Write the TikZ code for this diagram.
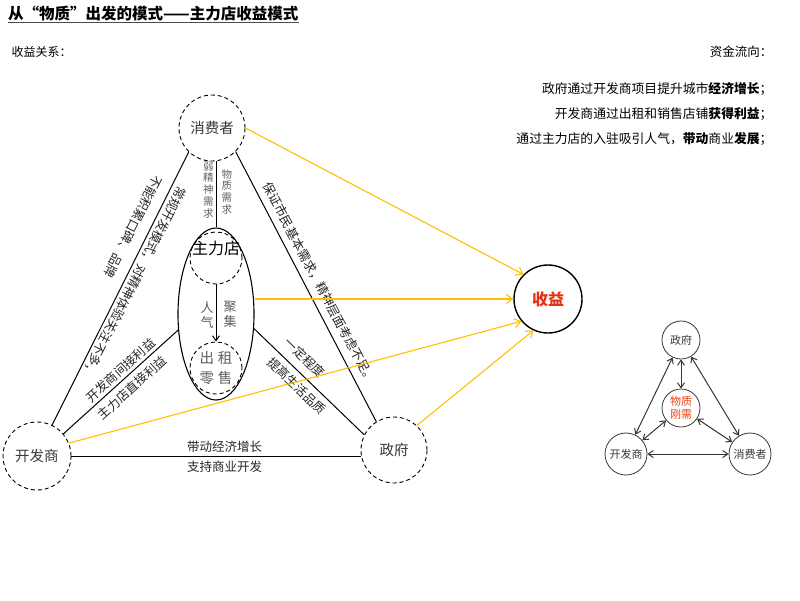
\documentclass[tikz,border=0pt]{standalone}
\usepackage{fontspec}
\setmainfont{Noto Sans CJK SC}
\usepackage{tikz}
\usetikzlibrary{arrows.meta}
\usetikzlibrary{shapes.geometric}
\definecolor{amber}{RGB}{255, 192, 0}
\definecolor{vermilion}{RGB}{230, 50, 20}
\definecolor{ashgray}{RGB}{95, 95, 95}
\definecolor{charcoal}{RGB}{55, 55, 55}

\begin{document}
\begin{tikzpicture}[x=1pt, y=-1pt,
        dcirc/.style={circle, draw, dash pattern=on 4pt off 3pt, line width=0.9pt, inner sep=0pt,
                      minimum size=66pt, text=charcoal, font=\fontsize{14.5}{16}\selectfont},
        scirc/.style={circle, draw=charcoal, line width=0.8pt, inner sep=0pt, minimum size=38pt,
                      text=charcoal, align=center, font=\fontsize{11}{12.5}\selectfont},
        link/.style={line width=1pt},
        cashflow/.style={amber, line width=1.1pt, -{Straight Barb[length=6pt, width=9pt]}},
        twoway/.style={charcoal, line width=1pt,
                       {Straight Barb[length=5pt, width=7pt]}-{Straight Barb[length=5pt, width=7pt]}},
        lbl/.style={text=black!85, font=\fontsize{12.5}{14}\selectfont},
        vlbl/.style={text=ashgray, align=center, inner sep=2pt}]
            \useasboundingbox (0, 0) rectangle (800, 600);
            % Headings
            \node[anchor=base west, inner sep=0pt, font=\fontsize{15.5}{17}\selectfont\bfseries] (bt) at (8, 19.5) {从“物质”出发的模式——主力店收益模式};
            \draw[gray!60!black, line width=1pt] ([yshift=-2.5pt]bt.base west) -- ([yshift=-2.5pt]bt.base east);
            \node[anchor=west, font=\fontsize{12}{14}\selectfont] (sygx) at (8, 52) {收益关系：};
            \node[anchor=east, font=\fontsize{12.5}{14}\selectfont] (zjlx) at (776, 52) {资金流向：};
            \node[anchor=east, font=\fontsize{12.8}{14}\selectfont] (hint1) at (776, 89) {政府通过开发商项目提升城市\textbf{经济增长}；};
            \node[anchor=east, font=\fontsize{12.8}{14}\selectfont] (hint2) at (776, 114) {开发商通过出租和销售店铺\textbf{获得利益}；};
            \node[anchor=east, font=\fontsize{12.8}{14}\selectfont] (hint3) at (776, 139) {通过主力店的入驻吸引人气，\textbf{带动}商业\textbf{发展}；};
            % Main triangle
            \node[dcirc]                     (xf)  at (212, 128) {消费者};
            \node[dcirc, minimum size=68pt]  (kf)  at ( 37, 456) {开发商};
            \node[dcirc]                     (zf)  at (394, 450) {政府};
            \node[circle, draw, line width=1.4pt, minimum size=68pt, inner sep=0pt,
                  text=vermilion, font=\fontsize{16}{18}\selectfont\bfseries] (sy) at (548, 299) {收益};
            % Anchor store
            \node[ellipse, draw, line width=1.1pt, minimum width=76pt, minimum height=172pt, inner sep=0pt] (zl) at (216, 314) {};
            \node[dcirc, minimum size=52pt]  (zld) at (216, 258) {};
            \node[font=\fontsize{16}{18}\selectfont, inner sep=0pt] (zlt) at (216, 248) {主力店};
            \node[dcirc, minimum size=52pt, text=ashgray, align=center,
                  font=\fontsize{14.5}{20}\selectfont] (cz) at (216, 368) {出\hspace{4pt}租\\零\hspace{4pt}售};
            \draw[link, -{Straight Barb[length=5pt, width=7pt]}] (zld) -- (cz)
                 node[vlbl, pos=0.53, anchor=east, font=\fontsize{13}{15}\selectfont] {人\\气}
                 node[vlbl, pos=0.53, anchor=west, inner sep=7pt, font=\fontsize{13}{15}\selectfont] {聚\\集};
            \draw[link] (zl.north |- xf.south) -- (zl.north)
                 node[vlbl, pos=0.43, anchor=east, font=\fontsize{10.5}{11.7}\selectfont] {弱\\精\\神\\需\\求}
                 node[vlbl, pos=0.46, anchor=west, inner sep=5pt, font=\fontsize{10.5}{11.7}\selectfont] {物\\质\\需\\求};
            % Relations
            \draw[link] (xf.226) -- (kf.64)
                 node[lbl, pos=0.46, anchor=south, rotate=-117, inner sep=3pt] {常规开发模式，对精神体验关注不多，}
                 node[lbl, pos=0.30, anchor=north, rotate=-117, inner sep=10pt] {不能积累口碑、品牌};
            \draw[link] (xf.315) -- (zf.122)
                 node[lbl, pos=0.51, anchor=south, rotate=-62, inner sep=7pt] {保证市民基本需求，精神层面考虑不足。};
            \draw[link] (kf.40) -- (zl.203)
                 node[lbl, pos=0.55, anchor=south, rotate=42, inner sep=2.5pt] {开发商间接利益}
                 node[lbl, pos=0.53, anchor=north, rotate=42, inner sep=5.5pt] {主力店直接利益};
            \draw[link] (zl.339) -- (zf.153)
                 node[lbl, pos=0.37, anchor=south, rotate=-44, inner sep=8pt] {一定程度}
                 node[lbl, pos=0.46, anchor=north, rotate=-44, inner sep=5.5pt] {提高生活品质};
            \draw[link] (kf.east) -- (kf.east -| zf.west)
                 node[lbl, pos=0.53, anchor=south, inner sep=3.5pt] {带动经济增长}
                 node[lbl, pos=0.53, anchor=north, inner sep=4.5pt] {支持商业开发};
            % Cash flow
            \draw[cashflow] (xf.east)            -- (sy.135);
            \draw[cashflow] (zl.east |- sy.west) -- (sy.west);
            \draw[cashflow] (kf.22)              -- (sy.220);
            \draw[cashflow] (zf.47)              -- (sy.245);
            % Small triangle
            \node[scirc]                                  (szf) at (681, 340) {政府};
            \node[scirc, text=vermilion!85!orange]        (swz) at (681, 408) {物质\\刚需};
            \node[scirc, minimum size=42pt]               (skf) at (626, 454) {开发商};
            \node[scirc, minimum size=42pt]               (sxf) at (750, 454) {消费者};
            \draw[twoway] (szf) -- (skf);
            \draw[twoway] (szf) -- (sxf);
            \draw[twoway] (szf) -- (swz);
            \draw[twoway] (swz) -- (skf);
            \draw[twoway] (swz) -- (sxf);
            \draw[twoway] (skf) -- (sxf);
\end{tikzpicture}
\end{document}
